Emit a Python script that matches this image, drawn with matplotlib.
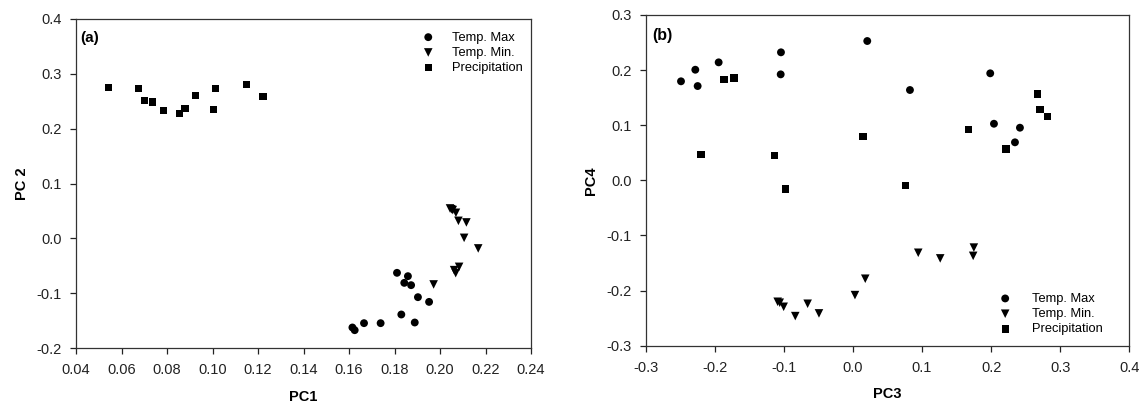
import matplotlib
matplotlib.use("Agg")
import matplotlib.pyplot as plt

plt.rcParams['font.family'] = ['Liberation Sans', 'DejaVu Sans']

# Panel (a): PC1 vs PC2
a_tmax_x = [0.1811, 0.1859, 0.1843, 0.1873, 0.1903, 0.1952, 0.1830, 0.1889, 0.1739, 0.1666, 0.1615, 0.1625]
a_tmax_y = [-0.0629, -0.0690, -0.0812, -0.0854, -0.1073, -0.1159, -0.1389, -0.1535, -0.1547, -0.1547, -0.1626, -0.1675]
a_tmin_x = [0.2044, 0.2050, 0.2056, 0.2070, 0.2081, 0.2116, 0.2106, 0.2168, 0.2084, 0.2069, 0.1972, 0.2062]
a_tmin_y = [0.0545, 0.0530, 0.0515, 0.0466, 0.0319, 0.0290, 0.0009, -0.0184, -0.0520, -0.0635, -0.0841, -0.0580]
a_prec_x = [0.0542, 0.0676, 0.0702, 0.0737, 0.0785, 0.0856, 0.0879, 0.0926, 0.1012, 0.1005, 0.1150, 0.1222]
a_prec_y = [0.2746, 0.2735, 0.2509, 0.2485, 0.2334, 0.2272, 0.2363, 0.2608, 0.2728, 0.2345, 0.2801, 0.2580]

# Panel (b): PC3 vs PC4
b_tmax_x = [-0.2489, -0.2282, -0.2248, -0.1944, -0.1042, -0.1046, 0.0207, 0.0825, 0.1987, 0.2041, 0.2417, 0.2345]
b_tmax_y = [0.1797, 0.2007, 0.1711, 0.2141, 0.2323, 0.1923, 0.2528, 0.1639, 0.1942, 0.1027, 0.0955, 0.0690]
b_tmin_x = [-0.1090, -0.1060, -0.1003, -0.0835, -0.0656, -0.0492, 0.0029, 0.0178, 0.0945, 0.1263, 0.1750, 0.1740]
b_tmin_y = [-0.2203, -0.2220, -0.2294, -0.2463, -0.2239, -0.2414, -0.2082, -0.1785, -0.1314, -0.1416, -0.1220, -0.1370]
b_prec_x = [-0.2200, -0.1867, -0.1722, -0.1133, -0.0980, 0.0145, 0.0757, 0.1669, 0.2214, 0.2673, 0.2706, 0.2812]
b_prec_y = [0.0472, 0.1833, 0.1857, 0.0447, -0.0158, 0.0791, -0.0091, 0.0918, 0.0568, 0.1566, 0.1289, 0.1154]

series_labels = ['Temp. Max', 'Temp. Min.', 'Precipitation']

a_xticks = [0.04, 0.06, 0.08, 0.10, 0.12, 0.14, 0.16, 0.18, 0.20, 0.22, 0.24]
a_yticks = [-0.2, -0.1, 0.0, 0.1, 0.2, 0.3, 0.4]
b_xticks = [-0.3, -0.2, -0.1, 0.0, 0.1, 0.2, 0.3, 0.4]
b_yticks = [-0.3, -0.2, -0.1, 0.0, 0.1, 0.2, 0.3]

fig = plt.figure(figsize=(11.43, 4.04), dpi=100)
ax1 = fig.add_axes([76/1143, 1-348/404, 455/1143, 329/404])
ax2 = fig.add_axes([645.7/1143, 1-345.7/404, 483.6/1143, 330.7/404])

ms = dict(color='black', edgecolors='none')

def draw(ax, tx, ty, nx, ny, px, py):
    ax.scatter(tx, ty, marker='o', s=32, label=series_labels[0], **ms)
    ax.scatter(nx, ny, marker='v', s=38, label=series_labels[1], **ms)
    ax.scatter(px, py, marker='s', s=27, label=series_labels[2], **ms)

draw(ax1, a_tmax_x, a_tmax_y, a_tmin_x, a_tmin_y, a_prec_x, a_prec_y)
draw(ax2, b_tmax_x, b_tmax_y, b_tmin_x, b_tmin_y, b_prec_x, b_prec_y)

for ax, xt, yt, xfmt, yfmt in [(ax1, a_xticks, a_yticks, '{:.2f}', '{:.1f}'),
                               (ax2, b_xticks, b_yticks, '{:.1f}', '{:.1f}')]:
    ax.set_xlim(xt[0], xt[-1])
    ax.set_ylim(yt[0], yt[-1])
    ax.set_xticks(xt)
    ax.set_yticks(yt)
    ax.set_xticklabels([xfmt.format(v) for v in xt])
    ax.set_yticklabels([yfmt.format(v) for v in yt])
    ax.tick_params(direction='out', length=4, width=0.9, labelsize=10.5,
                   top=False, right=False, colors='#222222')
    ax.tick_params(axis='x', pad=7)
    ax.tick_params(axis='y', pad=6)
    for sp in ax.spines.values():
        sp.set_linewidth(0.9)
        sp.set_color('#333333')

ax1.set_xlabel('PC1', fontsize=10.5, fontweight='bold', labelpad=9)
ax1.set_ylabel('PC 2', fontsize=10.5, fontweight='bold', labelpad=6)
ax2.set_xlabel('PC3', fontsize=10.5, fontweight='bold', labelpad=9)
ax2.set_ylabel('PC4', fontsize=10.5, fontweight='bold', labelpad=6)

ax1.text(0.009, 0.965, '(a)', transform=ax1.transAxes, fontsize=11,
         fontweight='bold', va='top', ha='left')
ax2.text(0.013, 0.96, '(b)', transform=ax2.transAxes, fontsize=11.5,
         fontweight='bold', va='top', ha='left')

ax1.legend(loc='upper left', bbox_to_anchor=(0.760, 0.962), frameon=False,
           fontsize=9.3, handlelength=1.0, handletextpad=1.3, borderpad=0,
           labelspacing=0.25, borderaxespad=0)
ax2.legend(loc='upper left', bbox_to_anchor=(0.730, 0.16), frameon=False,
           fontsize=9.3, handlelength=1.0, handletextpad=1.6, borderpad=0,
           labelspacing=0.25, borderaxespad=0)

fig.savefig('out.png', dpi=100)
